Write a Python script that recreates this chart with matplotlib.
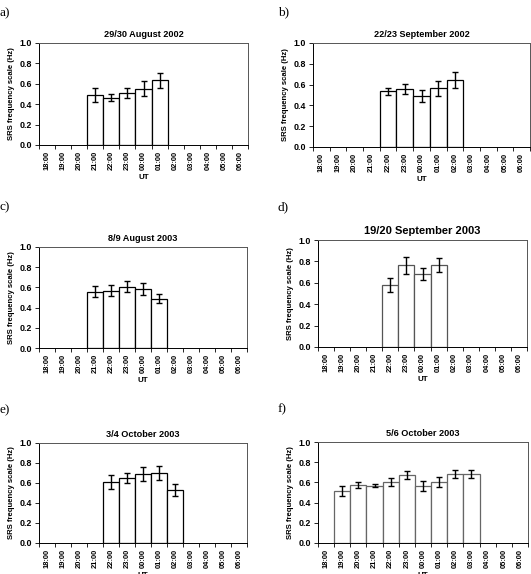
import numpy as np
import matplotlib
matplotlib.use("Agg")
from matplotlib import pyplot as plt

# UT hour categories shared by every panel
hours = ['18:00', '19:00', '20:00', '21:00', '22:00', '23:00', '00:00',
         '01:00', '02:00', '03:00', '04:00', '05:00', '06:00']

# a) 29/30 August 2002
a_hours = ['21:00', '22:00', '23:00', '00:00', '01:00']
a_vals = [0.49, 0.465, 0.51, 0.553, 0.635]
a_errs = [0.07, 0.037, 0.048, 0.072, 0.075]

# b) 22/23 September 2002
b_hours = ['22:00', '23:00', '00:00', '01:00', '02:00']
b_vals = [0.535, 0.554, 0.49, 0.564, 0.642]
b_errs = [0.033, 0.047, 0.056, 0.075, 0.076]

# c) 8/9 August 2003
c_hours = ['21:00', '22:00', '23:00', '00:00', '01:00']
c_vals = [0.557, 0.567, 0.607, 0.587, 0.49]
c_errs = [0.054, 0.054, 0.055, 0.058, 0.04]

# d) 19/20 September 2003
d_hours = ['22:00', '23:00', '00:00', '01:00']
d_vals = [0.578, 0.762, 0.683, 0.77]
d_errs = [0.068, 0.078, 0.056, 0.065]

# e) 3/4 October 2003
e_hours = ['22:00', '23:00', '00:00', '01:00', '02:00']
e_vals = [0.61, 0.65, 0.69, 0.70, 0.53]
e_errs = [0.067, 0.053, 0.072, 0.073, 0.062]

# f) 5/6 October 2003
f_hours = ['19:00', '20:00', '21:00', '22:00', '23:00', '00:00', '01:00', '02:00', '03:00']
f_vals = [0.515, 0.574, 0.568, 0.60, 0.673, 0.564, 0.604, 0.686, 0.68]
f_errs = [0.048, 0.031, 0.013, 0.04, 0.036, 0.05, 0.05, 0.04, 0.038]

W, H = 531, 574
fig = plt.figure(figsize=(W / 100, H / 100), dpi=100)
plt.rcParams['font.family'] = 'Liberation Sans'


def px_axes(left, right, top, bottom):
    return fig.add_axes([left / W, 1 - bottom / H, (right - left) / W, (bottom - top) / H])


def panel(box, sel, vals, errs, title, letter, letter_xy, title_size=6.6, edge='black'):
    ax = px_axes(*box)
    x = [hours.index(h) for h in sel]
    ax.bar(x, vals, width=1.0, color='white', edgecolor=edge, linewidth=0.9, zorder=2)
    ax.errorbar(x, vals, yerr=errs, fmt='none', ecolor='black', elinewidth=1.0,
                capsize=2, capthick=1.0, zorder=3)
    ax.set_xlim(-0.5, len(hours) - 0.5)
    ax.set_ylim(0, 1.0)
    ax.set_yticks(np.arange(0, 1.01, 0.2))
    ax.set_yticklabels(['%.1f' % v for v in np.arange(0, 1.01, 0.2)],
                       fontsize=6.4, fontweight='bold')
    ax.set_xticks(range(len(hours)))
    ax.set_xticklabels(hours, rotation=90, fontsize=5.4, fontweight='bold')
    ax.set_xticks(np.arange(-0.5, len(hours), 1.0), minor=True)
    ax.tick_params(axis='x', which='major', length=0, pad=4)
    ax.tick_params(axis='x', which='minor', length=3, width=0.6, direction='out')
    ax.tick_params(axis='y', length=3, width=0.6, direction='out', pad=2)
    for s in ax.spines.values():
        s.set_linewidth(0.7)
        s.set_color('#555555')
    ax.spines['left'].set_color('black')
    ax.spines['bottom'].set_color('black')
    ax.set_ylabel('SRS frequency scale (Hz)', fontsize=5.6, fontweight='bold', labelpad=3)
    ax.set_xlabel('UT', fontsize=5.8, fontweight='bold', labelpad=3)
    ax.set_title(title, fontsize=title_size, fontweight='bold', pad=4)
    fig.text(letter_xy[0] / W, 1 - letter_xy[1] / H, letter, fontsize=9.5,
             family='Liberation Serif', va='center', ha='left')
    return ax


panel((39, 248, 43, 145), a_hours, a_vals, a_errs, '29/30 August 2002', 'a)', (0, 13))
panel((313, 530, 43, 147), b_hours, b_vals, b_errs, '22/23 September 2002', 'b)', (278, 12))
panel((39, 247, 247, 348), c_hours, c_vals, c_errs, '8/9 August 2003', 'c)', (0, 207))
panel((318, 527, 240, 347), d_hours, d_vals, d_errs, '19/20 September 2003', 'd)', (278, 207),
      title_size=8.0, edge='#555555')
panel((39, 247, 443, 543), e_hours, e_vals, e_errs, '3/4 October 2003', 'e)', (0, 410))
panel((318, 528, 442, 543), f_hours, f_vals, f_errs, '5/6 October 2003', 'f)', (278, 409),
      edge='#666666')

fig.savefig('out.png', dpi=100)
